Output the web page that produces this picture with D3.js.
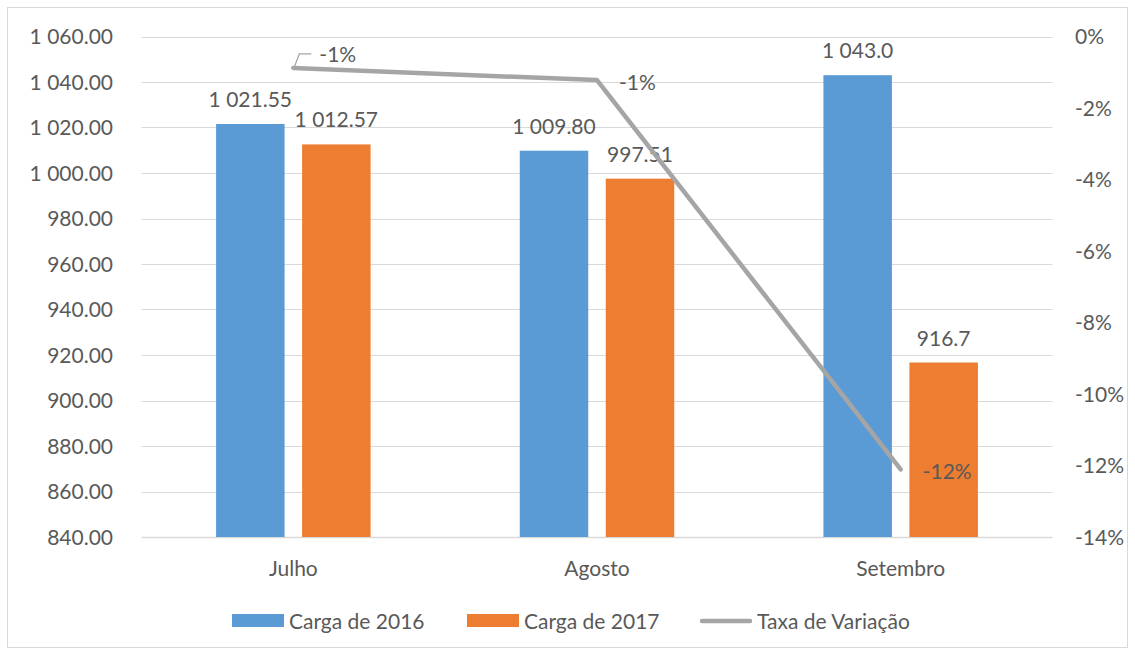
<!DOCTYPE html>
<html>
<head>
<meta charset="utf-8">
<script src="https://cdn.jsdelivr.net/npm/d3@7"></script>
<style>
  body { margin: 0; background: #fff; }
  text { font-family: Lato, "Open Sans", sans-serif; fill: #595959; }
</style>
</head>
<body>
<script>
// chart data
var months = ["Julho", "Agosto", "Setembro"];
var carga2016 = [1021.55, 1009.80, 1043.0];
var carga2017 = [1012.57, 997.51, 916.7];
var labels2016 = ["1 021.55", "1 009.80", "1 043.0"];
var labels2017 = ["1 012.57", "997.51", "916.7"];
var taxa = [-0.0088, -0.0122, -0.1211];
var taxaLabels = ["-1%", "-1%", "-12%"];
var leftTicks = [840, 860, 880, 900, 920, 940, 960, 980, 1000, 1020, 1040, 1060];
var rightTicks = [0, -0.02, -0.04, -0.06, -0.08, -0.10, -0.12, -0.14];
var seriesNames = ["Carga de 2016", "Carga de 2017", "Taxa de Variação"];

var W = 1135, H = 655;
var plotLeft = 141.5, plotRight = 1052.5, plotTop = 36.5, plotBottom = 537;
var blue = "#5b9bd5", orange = "#ed7d31", grey = "#a5a5a5";
var fs = "21px";

var svg = d3.select("body").append("svg")
    .attr("width", W)
    .attr("height", H);

// outer border of chart area
svg.append("rect")
    .attr("x", 7.5).attr("y", 7.5)
    .attr("width", 1120).attr("height", 640)
    .attr("fill", "none")
    .attr("stroke", "#d9d9d9");

var x = d3.scaleBand().domain(months).range([plotLeft, plotRight]);
var y = d3.scaleLinear().domain([840, 1060]).range([plotBottom, plotTop]);
var y2 = d3.scaleLinear().domain([-0.14, 0]).range([plotBottom, plotTop]);

var fmtLeft = function(d) {
  var s = d3.format(".2f")(d);
  return s.replace(/^(\d)(\d{3})/, "$1 $2");
};

// gridlines
svg.append("g").selectAll("line")
    .data(leftTicks)
    .enter().append("line")
    .attr("x1", plotLeft).attr("x2", plotRight)
    .attr("y1", function(d) { return Math.round(y(d)) + 0.5; })
    .attr("y2", function(d) { return Math.round(y(d)) + 0.5; })
    .attr("stroke", "#d9d9d9")
    .attr("stroke-width", function(d) { return d == 840 ? 1.5 : 1; });

// left axis labels
svg.append("g").selectAll("text")
    .data(leftTicks)
    .enter().append("text")
    .attr("x", 113)
    .attr("y", function(d) { return y(d); })
    .attr("dy", "0.36em")
    .attr("text-anchor", "end")
    .style("font-size", fs)
    .text(fmtLeft);

// right axis labels
svg.append("g").selectAll("text")
    .data(rightTicks)
    .enter().append("text")
    .attr("x", 1075)
    .attr("y", function(d) { return y2(d); })
    .attr("dy", "0.36em")
    .style("font-size", fs)
    .text(function(d) { return d3.format(".0%")(d).replace("−", "-"); });

// category labels
svg.append("g").selectAll("text")
    .data(months)
    .enter().append("text")
    .attr("x", function(d) { return x(d) + x.bandwidth() / 2; })
    .attr("y", 576)
    .attr("text-anchor", "middle")
    .style("font-size", fs)
    .text(function(d) { return d; });

// bars
var barW = 68.5, gap = 17.5;
function drawBars(values, labels, color, offset) {
  var g = svg.append("g");
  g.selectAll("rect")
      .data(values)
      .enter().append("rect")
      .attr("x", function(d, i) { return x(months[i]) + x.bandwidth() / 2 + offset; })
      .attr("y", function(d) { return y(d); })
      .attr("width", barW)
      .attr("height", function(d) { return plotBottom - y(d); })
      .attr("fill", color);
  g.selectAll("text")
      .data(values)
      .enter().append("text")
      .attr("x", function(d, i) { return x(months[i]) + x.bandwidth() / 2 + offset + barW / 2; })
      .attr("y", function(d) { return y(d) - 17; })
      .attr("text-anchor", "middle")
      .style("font-size", fs)
      .text(function(d, i) { return labels[i]; });
}
drawBars(carga2016, labels2016, blue, -gap / 2 - barW);
drawBars(carga2017, labels2017, orange, gap / 2);

// line series
var pts = taxa.map(function(d, i) { return [x(months[i]) + x.bandwidth() / 2, y2(d)]; });
svg.append("path")
    .attr("d", d3.line()(pts))
    .attr("fill", "none")
    .attr("stroke", grey)
    .attr("stroke-width", 4.5)
    .attr("stroke-linecap", "round")
    .attr("stroke-linejoin", "round");

// line labels (first one has a leader line)
svg.append("path")
    .attr("d", "M" + (pts[0][0] + 1) + "," + (pts[0][1] - 1) + "L" + (pts[0][0] + 6) + "," + (pts[0][1] - 14) + "H" + (pts[0][0] + 18))
    .attr("fill", "none")
    .attr("stroke", grey)
    .attr("stroke-width", 1.2);
svg.append("g").selectAll("text")
    .data(taxaLabels)
    .enter().append("text")
    .attr("x", function(d, i) { return i == 0 ? pts[i][0] + 26 : pts[i][0] + 22; })
    .attr("y", function(d, i) { return i == 0 ? pts[i][1] - 14 : pts[i][1] + 2; })
    .attr("dy", "0.36em")
    .style("font-size", fs)
    .text(function(d) { return d; });

// legend
var legendX = [232, 467, 700];
var legend = svg.append("g").selectAll("g")
    .data(seriesNames)
    .enter().append("g")
    .attr("transform", function(d, i) { return "translate(" + legendX[i] + ",621)"; });
legend.each(function(d, i) {
  var g = d3.select(this);
  if (i < 2) {
    g.append("rect")
        .attr("x", 0).attr("y", -7)
        .attr("width", 52).attr("height", 13)
        .attr("fill", i == 0 ? blue : orange);
  } else {
    g.append("line")
        .attr("x1", 2).attr("x2", 50)
        .attr("y1", 0).attr("y2", 0)
        .attr("stroke", grey)
        .attr("stroke-width", 4.5)
        .attr("stroke-linecap", "round");
  }
  g.append("text")
      .attr("x", 57)
      .attr("y", 0)
      .attr("dy", "0.36em")
      .style("font-size", fs)
      .text(d);
});
</script>
</body>
</html>
